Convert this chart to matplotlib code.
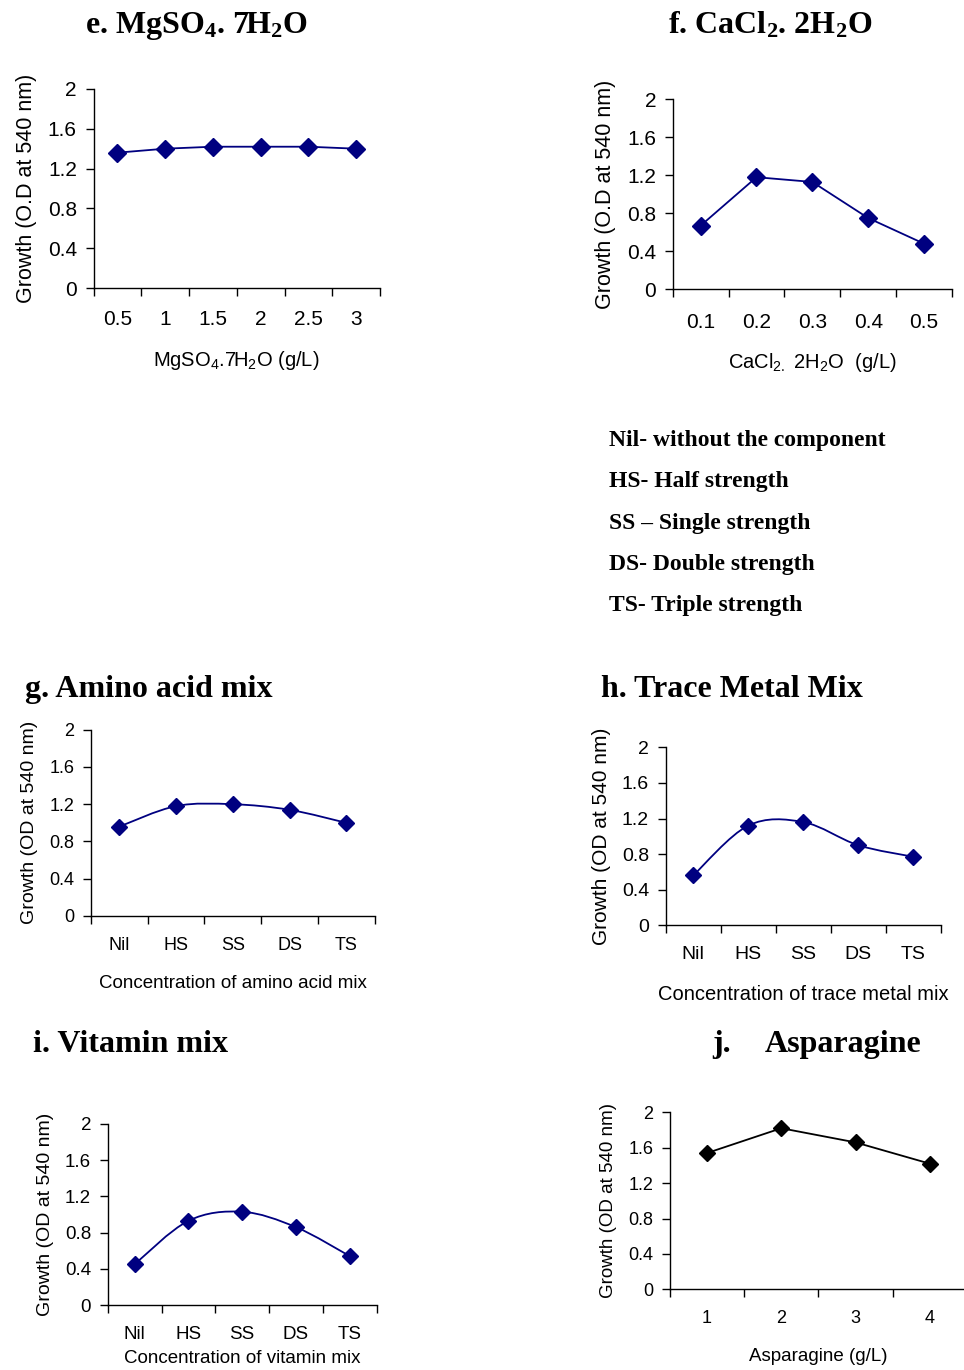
import numpy as np
import matplotlib
matplotlib.use("Agg")
import matplotlib.pyplot as plt
from matplotlib.path import Path
from matplotlib.patches import PathPatch

plt.rcParams['font.family'] = ['Liberation Sans', 'DejaVu Sans']
plt.rcParams['mathtext.default'] = 'regular'

NAVY = '#000080'

# growth data (OD at 540 nm)
mg_conc = ['0.5', '1', '1.5', '2', '2.5', '3']
mg_od = [1.36, 1.40, 1.42, 1.42, 1.42, 1.40]

ca_conc = ['0.1', '0.2', '0.3', '0.4', '0.5']
ca_od = [0.67, 1.18, 1.13, 0.75, 0.48]

strength = ['Nil', 'HS', 'SS', 'DS', 'TS']
amino_od = [0.96, 1.18, 1.20, 1.14, 1.00]
metal_od = [0.56, 1.12, 1.16, 0.90, 0.77]
vitamin_od = [0.45, 0.93, 1.03, 0.86, 0.54]

asn_conc = ['1', '2', '3', '4']
asn_od = [1.54, 1.82, 1.66, 1.42]

yticks = [0, 0.4, 0.8, 1.2, 1.6, 2]
ytick_labels = ['0', '0.4', '0.8', '1.2', '1.6', '2']

W, H = 964, 1370
fig = plt.figure(figsize=(W / 100, H / 100), dpi=100)


def box(left, top, right, bottom):
    # pixel box -> figure fraction
    return [left / W, 1 - bottom / H, (right - left) / W, (bottom - top) / H]


def smooth_path(x, y):
    # Catmull-Rom style bezier through the points (like a spreadsheet "smoothed line")
    pts = np.column_stack([x, y]).astype(float)
    p = np.vstack([pts[0], pts, pts[-1]])
    verts = [pts[0]]
    codes = [Path.MOVETO]
    for i in range(1, len(p) - 2):
        c1 = p[i] + (p[i + 1] - p[i - 1]) / 6
        c2 = p[i + 1] - (p[i + 2] - p[i]) / 6
        verts += [c1, c2, p[i + 1]]
        codes += [Path.CURVE4] * 3
    return Path(verts, codes)


def panel(rect, cats, vals, ylabel, xlabel, color=NAVY, smooth=False,
          tick_fs=15, ylab_fs=15, xlab_fs=14, xpad=24, xlab_pad=14, ms=8):
    ax = fig.add_axes(rect)
    n = len(cats)
    x = np.arange(1, n + 1)
    if smooth:
        ax.add_patch(PathPatch(smooth_path(x, vals), fill=False,
                               edgecolor=color, lw=1.3))
        ax.plot(x, vals, 'D', color=color, ms=ms)
    else:
        ax.plot(x, vals, '-D', color=color, lw=1.3, ms=ms)
    ax.set_xlim(0.5, n + 0.5)
    ax.set_ylim(0, 2)
    ax.set_yticks(yticks)
    ax.set_yticklabels(ytick_labels, fontsize=tick_fs)
    # category axis: ticks between categories, labels centred
    ax.set_xticks(np.arange(0.5, n + 1, 1))
    ax.set_xticklabels([])
    ax.set_xticks(x, minor=True)
    ax.set_xticklabels(cats, minor=True, fontsize=tick_fs)
    ax.tick_params(axis='x', which='major', length=6, width=1, direction='out')
    ax.tick_params(axis='x', which='minor', length=0, pad=xpad)
    ax.tick_params(axis='y', length=6, width=1, direction='out', pad=6)
    for s in ['top', 'right']:
        ax.spines[s].set_visible(False)
    for s in ['left', 'bottom']:
        ax.spines[s].set_linewidth(1)
    ax.set_ylabel(ylabel, fontsize=ylab_fs, labelpad=8)
    ax.set_xlabel(xlabel, fontsize=xlab_fs, labelpad=xlab_pad)
    return ax


panel(box(93.5, 89, 380, 288), mg_conc, mg_od,
      'Growth (O.D at 540 nm)', 'MgSO$_4$.7H$_2$O (g/L)',
      tick_fs=15, ylab_fs=15.5, xlab_fs=14.5, xpad=16, xlab_pad=14, ms=9)
panel(box(672.7, 99.3, 952, 289.3), ca_conc, ca_od,
      'Growth (O.D at 540 nm)', 'CaCl$_{2.}$ 2H$_2$O  (g/L)',
      tick_fs=15, ylab_fs=15.5, xlab_fs=14.5, xpad=17, xlab_pad=14, ms=9)
panel(box(91, 729.7, 374.7, 916), strength, amino_od,
      'Growth (OD at 540 nm)', 'Concentration of amino acid mix', smooth=True,
      tick_fs=13, ylab_fs=14, xlab_fs=13.5, xpad=15, xlab_pad=15, ms=8)
panel(box(665.7, 747.3, 940.7, 925.3), strength, metal_od,
      'Growth (OD at 540 nm)', 'Concentration of trace metal mix', smooth=True,
      tick_fs=14, ylab_fs=15, xlab_fs=14.5, xpad=15, xlab_pad=16, ms=8)
panel(box(107.7, 1124, 376.7, 1305), strength, vitamin_od,
      'Growth (OD at 540 nm)', 'Concentration of vitamin mix', smooth=True,
      tick_fs=13.5, ylab_fs=14, xlab_fs=13.5, xpad=15, xlab_pad=5, ms=8)
panel(box(670, 1112.3, 966.8, 1289.3), asn_conc, asn_od,
      'Growth (OD at 540 nm)', 'Asparagine (g/L)', color='black',
      tick_fs=13, ylab_fs=13.5, xlab_fs=13.5, xpad=15, xlab_pad=15, ms=8)

# panel titles
title_kw = dict(family='Liberation Serif', weight='bold', fontsize=23,
                va='baseline')
fig.text(85 / W, 1 - 33 / H, 'e. MgSO$_4$. 7H$_2$O', ha='left', **title_kw)
fig.text(668 / W, 1 - 33 / H, 'f. CaCl$_2$. 2H$_2$O', ha='left', **title_kw)
fig.text(25 / W, 1 - 697 / H, 'g. Amino acid mix', ha='left', **title_kw)
fig.text(601 / W, 1 - 697 / H, 'h. Trace Metal Mix', ha='left', **title_kw)
fig.text(33 / W, 1 - 1052 / H, 'i. Vitamin mix', ha='left', **title_kw)
fig.text(712 / W, 1 - 1052 / H, 'j.', ha='left', **title_kw)
fig.text(765 / W, 1 - 1052 / H, 'Asparagine', ha='left', **title_kw)

# abbreviation key
key_lines = ['Nil- without the component', 'HS- Half strength',
             'SS \u2013 Single strength', 'DS- Double strength',
             'TS- Triple strength']
for i, line in enumerate(key_lines):
    fig.text(609 / W, 1 - (446 + 41.3 * i) / H, line, family='Liberation Serif',
             weight='bold', fontsize=17, ha='left', va='baseline')

fig.savefig('out.png', dpi=100)
